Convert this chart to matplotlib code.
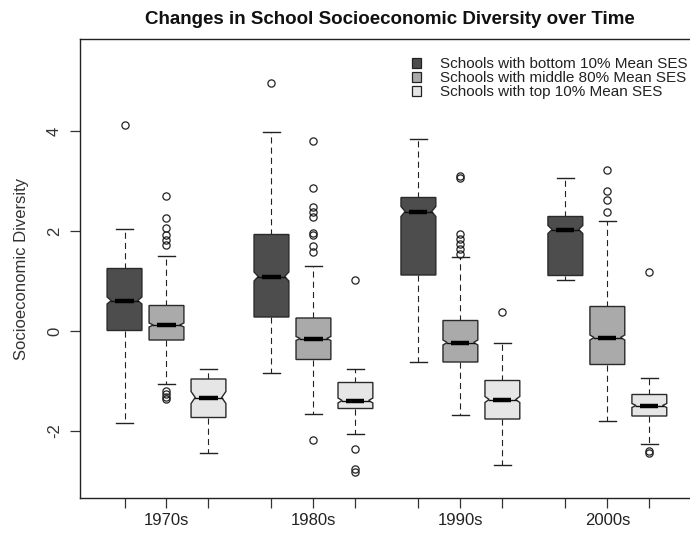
import matplotlib
matplotlib.use("Agg")
import matplotlib.pyplot as plt
from matplotlib.patches import Polygon, Patch

plt.rcParams["font.family"] = ["Liberation Sans", "DejaVu Sans"]
plt.rcParams["axes.unicode_minus"] = False

decades = ["1970s", "1980s", "1990s", "2000s"]
groups = ["Schools with bottom 10% Mean SES",
          "Schools with middle 80% Mean SES",
          "Schools with top 10% Mean SES"]
fills = ["#4d4d4d", "#aaaaaa", "#e6e6e6"]

# five-number summaries per group, one value per decade
bottom_whislo = [-1.83, -0.83, -0.62, 1.02]
bottom_q1 = [0.01, 0.28, 1.12, 1.11]
bottom_med = [0.61, 1.09, 2.39, 2.03]
bottom_q3 = [1.25, 1.93, 2.67, 2.29]
bottom_whishi = [2.05, 3.99, 3.84, 3.06]
bottom_notch = [0.07, 0.09, 0.10, 0.08]
bottom_fliers = [[4.12], [4.97], [], []]

middle_whislo = [-1.05, -1.65, -1.67, -1.80]
middle_q1 = [-0.18, -0.57, -0.62, -0.67]
middle_med = [0.12, -0.15, -0.23, -0.13]
middle_q3 = [0.51, 0.26, 0.21, 0.49]
middle_whishi = [1.51, 1.31, 1.49, 2.21]
middle_notch = [0.04, 0.04, 0.05, 0.05]
middle_fliers = [
    [2.71, 2.27, 2.07, 1.92, 1.82, 1.72, -1.20, -1.25, -1.31, -1.36],
    [3.80, 2.87, 2.49, 2.39, 2.29, 1.97, 1.92, 1.71, 1.59, -2.17],
    [3.10, 3.06, 1.95, 1.85, 1.74, 1.64, 1.55],
    [3.22, 2.81, 2.63, 2.39],
]

top_whislo = [-2.44, -2.05, -2.67, -2.25]
top_q1 = [-1.73, -1.55, -1.76, -1.70]
top_med = [-1.33, -1.39, -1.37, -1.49]
top_q3 = [-0.96, -1.03, -0.99, -1.27]
top_whishi = [-0.75, -0.76, -0.23, -0.93]
top_notch = [0.12, 0.05, 0.06, 0.04]
top_fliers = [[], [1.03, -2.35, -2.75, -2.81], [0.38], [1.18, -2.39, -2.43]]

series = [
    (bottom_whislo, bottom_q1, bottom_med, bottom_q3, bottom_whishi, bottom_notch, bottom_fliers),
    (middle_whislo, middle_q1, middle_med, middle_q3, middle_whishi, middle_notch, middle_fliers),
    (top_whislo, top_q1, top_med, top_q3, top_whishi, top_notch, top_fliers),
]

BOX_W = 0.83
GROUP_STEP = 3.5


def draw_box(ax, x, lo, q1, med, q3, hi, notch, fliers, color):
    hw = BOX_W / 2
    inset = 0.12 * BOX_W
    xs = [x - hw, x + hw, x + hw, x + hw - inset, x + hw, x + hw,
          x - hw, x - hw, x - hw + inset, x - hw, x - hw]
    ys = [q1, q1, med - notch, med, med + notch, q3,
          q3, med + notch, med, med - notch, q1]
    ax.add_patch(Polygon(list(zip(xs, ys)), closed=True, facecolor=color,
                         edgecolor="#2a2a2a", lw=1.0, zorder=2))
    dash = (0, (5.5, 3.7))
    ax.plot([x, x], [q3, hi], color="#222222", lw=0.8, ls=dash, zorder=1)
    ax.plot([x, x], [q1, lo], color="#222222", lw=0.8, ls=dash, zorder=1)
    cap = BOX_W / 4
    ax.plot([x - cap, x + cap], [hi, hi], color="#222222", lw=1.0, zorder=1)
    ax.plot([x - cap, x + cap], [lo, lo], color="#222222", lw=1.0, zorder=1)
    ax.plot([x - hw + inset, x + hw - inset], [med, med], color="#111111", lw=1.0, zorder=3)
    ax.plot([x - 0.26 * BOX_W, x + 0.26 * BOX_W], [med, med], color="#000000",
            lw=3.2, solid_capstyle="butt", zorder=3)
    if fliers:
        ax.plot([x] * len(fliers), fliers, ls="none", marker="o", ms=5.2,
                mfc="none", mec="#222222", mew=0.9, zorder=3)


fig = plt.figure(figsize=(6.9, 5.41), dpi=100)
ax = fig.add_axes([80 / 690, 1 - 498 / 541, 613 / 690, 459 / 541])

positions = []
for d in range(len(decades)):
    for g in range(len(groups)):
        x = 1 + d * GROUP_STEP + g
        positions.append(x)
        lo, q1, med, q3, hi, notch, fl = series[g]
        draw_box(ax, x, lo[d], q1[d], med[d], q3[d], hi[d], notch[d], fl[d], fills[g])

centers = [2 + d * GROUP_STEP for d in range(len(decades))]

ax.set_xlim(-0.06, 14.54)
ax.set_ylim(-3.34, 5.84)

# decade names sit under the middle tick of each group
ax.xaxis.remove_overlapping_locs = False
ax.set_xticks(positions, labels=[""] * len(positions))
ax.set_xticks(centers, labels=decades, minor=True)
ax.tick_params(axis="x", which="major", length=7, width=0.9, color="#333333")
ax.tick_params(axis="x", which="minor", length=0, pad=11, labelsize=12,
               labelcolor="#222222")

ax.set_yticks([-2, 0, 2, 4])
ax.tick_params(axis="y", length=7, width=0.9, color="#333333", labelsize=12,
               labelcolor="#333333", pad=6)
for lab in ax.get_yticklabels():
    lab.set_rotation(90)
    lab.set_va("center")

ax.set_ylabel("Socioeconomic Diversity", fontsize=12, color="#333333", labelpad=13)

for s in ax.spines.values():
    s.set_linewidth(1.0)
    s.set_color("#222222")

handles = [Patch(facecolor=c, edgecolor="#222222", lw=0.9) for c in fills]
ax.legend(handles, groups, loc="upper right", bbox_to_anchor=(0.992, 0.960),
          frameon=False, fontsize=11, labelspacing=0.0, handlelength=0.55,
          handleheight=0.55, handletextpad=1.3, borderpad=0, borderaxespad=0,
          labelcolor="#222222")

fig.text(390 / 690, 1 - 19 / 541, "Changes in School Socioeconomic Diversity over Time",
         ha="center", va="center", fontsize=13.5, fontweight="bold",
         color="#111111")

fig.savefig("out.png", dpi=100)
